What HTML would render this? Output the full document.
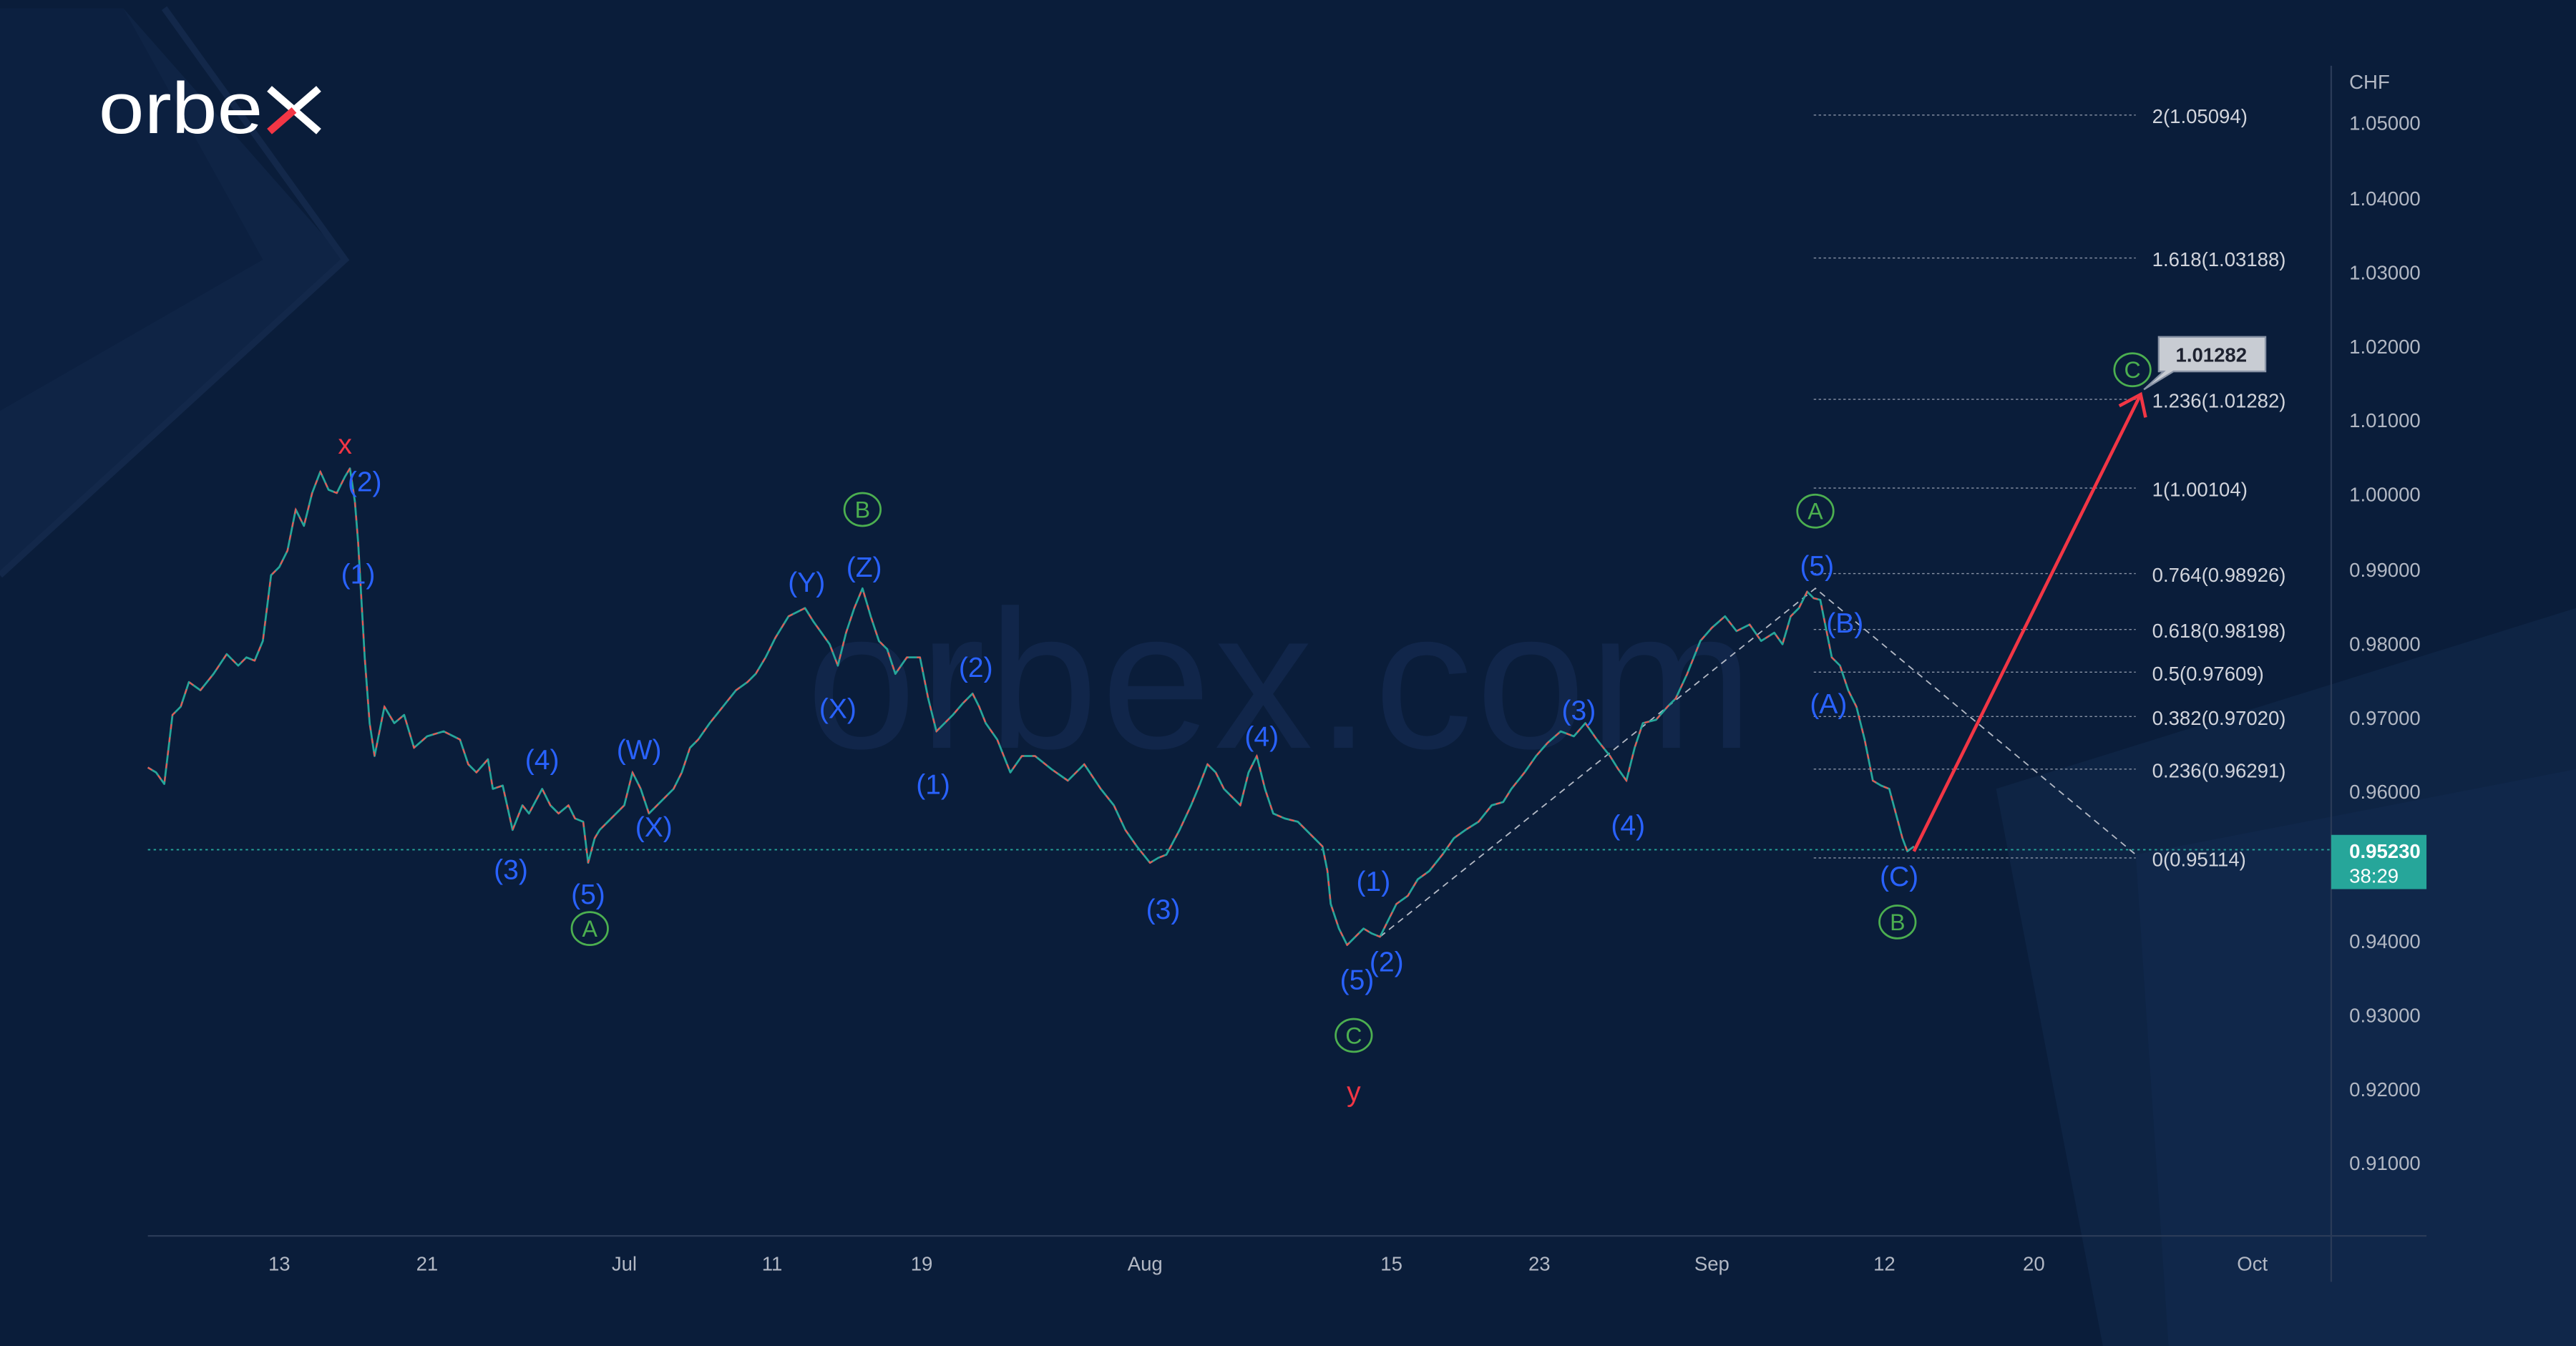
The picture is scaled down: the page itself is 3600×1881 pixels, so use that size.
<!DOCTYPE html>
<html><head><meta charset="utf-8"><style>
html,body{margin:0;padding:0;background:#0a1d3a;}
svg{display:block;}
text{font-family:"Liberation Sans",sans-serif;}
</style></head><body>
<svg width="3600" height="1881" viewBox="0 0 1568 819" preserveAspectRatio="none" xmlns="http://www.w3.org/2000/svg">
<rect width="1568" height="819" fill="#0a1d3a"/>
<polygon points="0,5 75,5 210,158 0,350" fill="#0f2445"/>
<polygon points="0,5 75,5 160,158 0,250" fill="#0c2040"/>
<polyline points="100,5 210,158 0,350" fill="none" stroke="#13284a" stroke-width="4"/>
<polygon points="1215,480 1568,370 1568,819 1280,819" fill="#0e2444"/>
<polygon points="1300,520 1568,468 1568,819 1320,819" fill="#10274a"/>
<text x="780" y="455" font-size="120" fill="#11264a" text-anchor="middle" letter-spacing="2">orbex.com</text>
<text x="60" y="81" font-size="44" fill="#ffffff" textLength="100" lengthAdjust="spacingAndGlyphs">orbe</text>
<line x1="164" y1="54" x2="194" y2="80" stroke="#ffffff" stroke-width="4.5"/>
<line x1="194" y1="54" x2="179" y2="67" stroke="#ffffff" stroke-width="4.5"/>
<line x1="179" y1="67" x2="164" y2="80" stroke="#f23645" stroke-width="4.5"/>
<line x1="90" y1="752" x2="1477" y2="752" stroke="#2a3b58" stroke-width="1"/>
<line x1="1419" y1="40" x2="1419" y2="780" stroke="#2a3b58" stroke-width="1"/>
<line x1="90" y1="517" x2="1419" y2="517" stroke="#26a69a" stroke-width="0.8" stroke-dasharray="1.5,2"/>
<g stroke="#8a94a6" stroke-width="0.6" stroke-dasharray="1.5,1.5">
<line x1="1104" y1="70" x2="1300" y2="70"/><line x1="1104" y1="157" x2="1300" y2="157"/>
<line x1="1104" y1="243" x2="1300" y2="243"/><line x1="1104" y1="297" x2="1300" y2="297"/>
<line x1="1104" y1="349" x2="1300" y2="349"/><line x1="1104" y1="383" x2="1300" y2="383"/>
<line x1="1104" y1="409" x2="1300" y2="409"/><line x1="1104" y1="436" x2="1300" y2="436"/>
<line x1="1104" y1="468" x2="1300" y2="468"/><line x1="1104" y1="522" x2="1300" y2="522"/>
</g>
<g font-size="12" fill="#d1d4dc">
<text x="1310" y="75">2(1.05094)</text><text x="1310" y="162">1.618(1.03188)</text>
<text x="1310" y="248">1.236(1.01282)</text><text x="1310" y="302">1(1.00104)</text>
<text x="1310" y="354">0.764(0.98926)</text><text x="1310" y="388">0.618(0.98198)</text>
<text x="1310" y="414">0.5(0.97609)</text><text x="1310" y="441">0.382(0.97020)</text>
<text x="1310" y="473">0.236(0.96291)</text><text x="1310" y="527">0(0.95114)</text>
</g>
<g font-size="12" fill="#b2b8c4">
<text x="1430" y="54">CHF</text>
<text x="1430" y="79">1.05000</text><text x="1430" y="125">1.04000</text><text x="1430" y="170">1.03000</text>
<text x="1430" y="215">1.02000</text><text x="1430" y="260">1.01000</text><text x="1430" y="305">1.00000</text>
<text x="1430" y="351">0.99000</text><text x="1430" y="396">0.98000</text><text x="1430" y="441">0.97000</text>
<text x="1430" y="486">0.96000</text><text x="1430" y="577">0.94000</text><text x="1430" y="622">0.93000</text>
<text x="1430" y="667">0.92000</text><text x="1430" y="712">0.91000</text>
</g>
<rect x="1419" y="508" width="58" height="33" fill="#26a69a"/>
<text x="1430" y="522" font-size="12" fill="#fff" font-weight="bold">0.95230</text>
<text x="1430" y="537" font-size="12" fill="#fff">38:29</text>
<g font-size="12" fill="#b2b8c4" text-anchor="middle">
<text x="170" y="773">13</text><text x="260" y="773">21</text><text x="380" y="773">Jul</text>
<text x="470" y="773">11</text><text x="561" y="773">19</text><text x="697" y="773">Aug</text>
<text x="847" y="773">15</text><text x="937" y="773">23</text><text x="1042" y="773">Sep</text>
<text x="1147" y="773">12</text><text x="1238" y="773">20</text><text x="1371" y="773">Oct</text>
</g>
<polyline points="840,570 1105,358 1300,520" fill="none" stroke="#b2b8c4" stroke-width="0.8" stroke-dasharray="4,3"/>
<polyline fill="none" stroke="#26a69a" stroke-width="1.2" stroke-linejoin="round" points="90,467 95,470 100,477 105,435 110,430 115,415 122,420 130,410 138,398 145,405 150,400 155,402 160,390 165,350 170,345 175,335 180,310 185,320 190,300 195,287 200,298 205,300 210,290 213,285 216,305 218,330 222,400 225,440 228,460 234,430 240,440 246,435 252,455 260,448 270,445 280,450 285,465 290,470 297,462 300,480 306,478 312,505 318,490 322,495 330,480 335,490 340,495 346,490 350,498 355,500 358,525 362,510 365,505 370,500 375,495 380,490 385,470 390,480 395,495 400,490 405,485 410,480 415,470 420,455 425,450 432,440 440,430 448,420 455,415 460,410 466,400 472,388 480,375 486,372 490,370 495,378 500,385 505,392 510,405 515,385 520,370 525,358 530,375 535,390 540,395 545,410 552,400 560,400 565,425 570,445 575,440 580,435 586,428 592,422 596,430 600,440 607,450 615,470 622,460 630,460 640,468 650,475 660,465 670,480 678,490 685,505 692,515 700,525 705,522 710,520 718,505 725,490 730,478 735,465 740,470 745,480 750,485 755,490 760,470 765,460 770,480 775,495 782,498 790,500 798,508 805,515 808,530 810,550 815,565 820,575 825,570 830,565 835,568 840,570 845,560 850,550 857,545 863,535 870,530 878,520 885,510 892,505 900,500 908,490 915,488 920,480 928,470 935,460 942,452 950,445 958,448 965,440 972,450 980,460 985,468 990,475 995,455 1000,440 1008,438 1015,430 1020,425 1027,410 1035,390 1042,382 1050,375 1057,384 1065,380 1072,390 1080,385 1085,392 1090,375 1095,370 1100,360 1104,364 1108,365 1112,385 1115,400 1120,405 1125,420 1130,430 1135,450 1138,465 1140,475 1145,478 1150,480 1154,495 1158,510 1161,518 1165,515"/>
<polyline fill="none" stroke="#ef5350" stroke-width="0.9" stroke-dasharray="3,5" points="90,467 95,470 100,477 105,435 110,430 115,415 122,420 130,410 138,398 145,405 150,400 155,402 160,390 165,350 170,345 175,335 180,310 185,320 190,300 195,287 200,298 205,300 210,290 213,285 216,305 218,330 222,400 225,440 228,460 234,430 240,440 246,435 252,455 260,448 270,445 280,450 285,465 290,470 297,462 300,480 306,478 312,505 318,490 322,495 330,480 335,490 340,495 346,490 350,498 355,500 358,525 362,510 365,505 370,500 375,495 380,490 385,470 390,480 395,495 400,490 405,485 410,480 415,470 420,455 425,450 432,440 440,430 448,420 455,415 460,410 466,400 472,388 480,375 486,372 490,370 495,378 500,385 505,392 510,405 515,385 520,370 525,358 530,375 535,390 540,395 545,410 552,400 560,400 565,425 570,445 575,440 580,435 586,428 592,422 596,430 600,440 607,450 615,470 622,460 630,460 640,468 650,475 660,465 670,480 678,490 685,505 692,515 700,525 705,522 710,520 718,505 725,490 730,478 735,465 740,470 745,480 750,485 755,490 760,470 765,460 770,480 775,495 782,498 790,500 798,508 805,515 808,530 810,550 815,565 820,575 825,570 830,565 835,568 840,570 845,560 850,550 857,545 863,535 870,530 878,520 885,510 892,505 900,500 908,490 915,488 920,480 928,470 935,460 942,452 950,445 958,448 965,440 972,450 980,460 985,468 990,475 995,455 1000,440 1008,438 1015,430 1020,425 1027,410 1035,390 1042,382 1050,375 1057,384 1065,380 1072,390 1080,385 1085,392 1090,375 1095,370 1100,360 1104,364 1108,365 1112,385 1115,400 1120,405 1125,420 1130,430 1135,450 1138,465 1140,475 1145,478 1150,480 1154,495 1158,510 1161,518 1165,515"/>
<line x1="1165" y1="518" x2="1303" y2="240" stroke="#f23645" stroke-width="2"/>
<polyline points="1290,247 1303,240 1306,254" fill="none" stroke="#f23645" stroke-width="2"/>
<polygon points="1314,205 1379,205 1379,226 1323,226 1305,237 1317,226 1314,226" fill="#c8ccd3" stroke="#8a94a6" stroke-width="1"/>
<text x="1346" y="220" font-size="12" fill="#1e2230" text-anchor="middle" font-weight="bold">1.01282</text>
<g font-size="17" fill="#2962ff" text-anchor="middle">
<text x="222" y="299">(2)</text><text x="218" y="355">(1)</text><text x="330" y="468">(4)</text>
<text x="311" y="535">(3)</text><text x="358" y="550">(5)</text><text x="389" y="462">(W)</text>
<text x="398" y="509">(X)</text><text x="491" y="360">(Y)</text><text x="526" y="351">(Z)</text>
<text x="510" y="437">(X)</text><text x="594" y="412">(2)</text><text x="568" y="483">(1)</text>
<text x="768" y="454">(4)</text><text x="708" y="559">(3)</text><text x="836" y="542">(1)</text>
<text x="844" y="591">(2)</text><text x="826" y="602">(5)</text><text x="961" y="438">(3)</text>
<text x="991" y="508">(4)</text><text x="1106" y="350">(5)</text><text x="1123" y="385">(B)</text>
<text x="1113" y="434">(A)</text><text x="1156" y="539">(C)</text>
</g>
<g font-size="14" fill="#4caf50" text-anchor="middle" stroke="#4caf50">
<ellipse cx="359" cy="565" rx="11" ry="10" fill="none" stroke-width="1.2"/><text x="359" y="570" stroke="none">A</text>
<ellipse cx="525" cy="310" rx="11" ry="10" fill="none" stroke-width="1.2"/><text x="525" y="315" stroke="none">B</text>
<ellipse cx="824" cy="630" rx="11" ry="10" fill="none" stroke-width="1.2"/><text x="824" y="635" stroke="none">C</text>
<ellipse cx="1105" cy="311" rx="11" ry="10" fill="none" stroke-width="1.2"/><text x="1105" y="316" stroke="none">A</text>
<ellipse cx="1155" cy="561" rx="11" ry="10" fill="none" stroke-width="1.2"/><text x="1155" y="566" stroke="none">B</text>
<ellipse cx="1298" cy="225" rx="11" ry="10" fill="none" stroke-width="1.2"/><text x="1298" y="230" stroke="none">C</text>
</g>
<text x="210" y="276" font-size="17" fill="#f23645" text-anchor="middle">x</text>
<text x="824" y="670" font-size="17" fill="#f23645" text-anchor="middle">y</text>
</svg>
</body></html>
